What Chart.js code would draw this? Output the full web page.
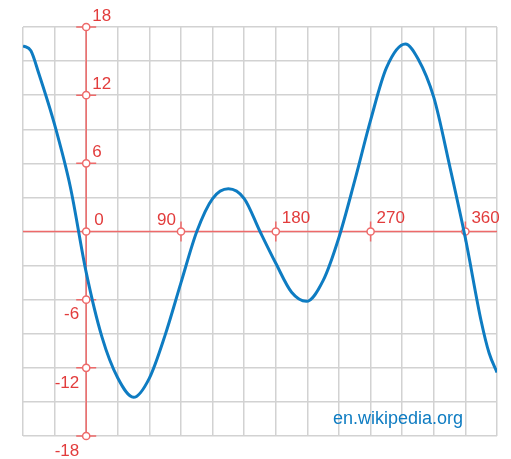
<!DOCTYPE html>
<html>
<head>
<meta charset="utf-8">
<script src="https://cdn.jsdelivr.net/npm/chart.js@4/dist/chart.umd.min.js"></script>
<style>
  html, body { margin: 0; padding: 0; background: #fff; }
  #wrap { width: 511px; height: 459px; }
</style>
</head>
<body>
<div id="wrap"><canvas id="grafico" width="511" height="459"></canvas></div>
<script>
// ── Dados ────
const xGraus = [-60, -52.5, -45, -30, -15, 0, 15, 30, 45, 60, 75, 90, 105, 120, 135, 150, 165,
                180, 195, 209, 225, 240, 255, 270, 285, 303, 315, 330, 345, 360, 375, 382.5, 390];
const yValores = [16.35, 15.9, 13.9, 9.4, 3.9, -3.6, -9.3, -12.9, -14.6, -12.9, -9.1, -4.5, 0.0, 2.9, 3.76, 2.9, 0.0,
                  -2.8, -5.35, -6.15, -4.3, -0.5, 4.5, 9.8, 14.4, 16.5, 15.2, 11.8, 5.8, -0.6, -7.9, -10.7, -12.4];
const xRotulos = [0, 90, 180, 270, 360];
const yRotulos = [18, 12, 6, -6, -12, -18];
const marca = 'en.wikipedia.org';

const VERMELHO = '#ee6a6a';
const VERMELHO_TXT = '#e23c3c';
const AZUL = '#0e7cc2';
const FONTE = "'Liberation Sans', Arial, sans-serif";

// ── Eixos vermelhos + rótulos ────
const eixosPlugin = {
    id: 'eixos',
    beforeDatasetsDraw(chart) {
        const { ctx, scales: { x, y }, chartArea: ca } = chart;
        const x0 = x.getPixelForValue(0);
        const y0 = y.getPixelForValue(0);
        ctx.save();
        ctx.strokeStyle = VERMELHO;
        ctx.lineWidth = 1.5;
        ctx.beginPath();
        ctx.moveTo(ca.left, y0); ctx.lineTo(ca.right, y0);
        ctx.moveTo(x0, ca.top); ctx.lineTo(x0, ca.bottom);
        // traços
        xRotulos.forEach(v => {
            if (v === 0) return;
            const px = x.getPixelForValue(v);
            ctx.moveTo(px, y0 - 10); ctx.lineTo(px, y0 + 10);
        });
        yRotulos.forEach(v => {
            const py = y.getPixelForValue(v);
            ctx.moveTo(x0 - 10, py); ctx.lineTo(x0 + 10, py);
        });
        ctx.stroke();

        // círculos
        const circulo = (cx, cy) => {
            ctx.beginPath();
            ctx.arc(cx, cy, 3.6, 0, Math.PI * 2);
            ctx.fillStyle = '#fff';
            ctx.fill();
            ctx.stroke();
        };
        xRotulos.forEach(v => circulo(x.getPixelForValue(v), y0));
        yRotulos.forEach(v => circulo(x0, y.getPixelForValue(v)));

        // rótulos
        ctx.fillStyle = VERMELHO_TXT;
        ctx.font = `17px ${FONTE}`;
        ctx.textBaseline = 'middle';
        xRotulos.forEach(v => {
            const px = x.getPixelForValue(v);
            if (v === 90) {
                ctx.textAlign = 'right';
                ctx.fillText(String(v), px - 5, y0 - 11);
            } else {
                ctx.textAlign = 'left';
                ctx.fillText(String(v), px + (v === 0 ? 8 : 6), y0 - (v === 0 ? 11 : 13));
            }
        });
        yRotulos.forEach(v => {
            const py = y.getPixelForValue(v);
            if (v > 0) {
                ctx.textAlign = 'left';
                ctx.fillText(String(v), x0 + 6, py - 11);
            } else {
                ctx.textAlign = 'right';
                ctx.fillText(String(v), x0 - 7, py + 15);
            }
        });
        ctx.restore();
    },
    afterDatasetsDraw(chart) {
        const { ctx, chartArea: ca } = chart;
        ctx.save();
        ctx.fillStyle = AZUL;
        ctx.font = `18px ${FONTE}`;
        ctx.textAlign = 'right';
        ctx.textBaseline = 'alphabetic';
        ctx.fillText(marca, ca.right - 34, ca.bottom - 12);
        ctx.restore();
    }
};

// ── Gráfico ────
new Chart(document.getElementById('grafico'), {
    type: 'scatter',
    data: {
        datasets: [{
            data: xGraus.map((g, i) => ({ x: g, y: yValores[i] })),
            showLine: true,
            borderColor: AZUL,
            borderWidth: 3,
            pointRadius: 0,
            cubicInterpolationMode: 'monotone',
            fill: false,
        }]
    },
    options: {
        responsive: false,
        animation: false,
        devicePixelRatio: 1,
        layout: { padding: { left: 23, right: 14, top: 27, bottom: 23 } },
        plugins: { legend: { display: false }, tooltip: { enabled: false } },
        scales: {
            x: {
                type: 'linear', min: -60, max: 390,
                ticks: { display: false, stepSize: 30 },
                grid: { color: '#d2d2d2', lineWidth: 1.5, drawTicks: false },
                border: { display: false }
            },
            y: {
                type: 'linear', min: -18, max: 18,
                ticks: { display: false, stepSize: 3 },
                grid: { color: '#d2d2d2', lineWidth: 1.5, drawTicks: false },
                border: { display: false }
            }
        }
    },
    plugins: [eixosPlugin]
});
</script>
</body>
</html>
